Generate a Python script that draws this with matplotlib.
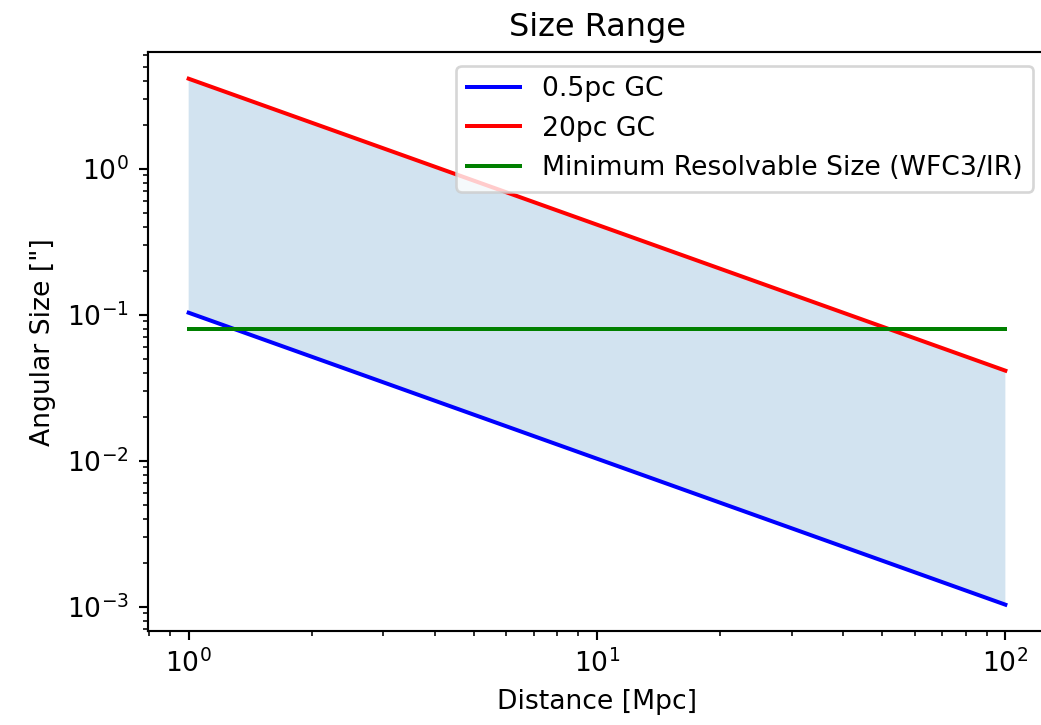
import matplotlib
matplotlib.use("Agg")
import matplotlib.pyplot as plt

# Data
distance_mpc = [1.0, 100.0]
size_small = [0.103, 0.00103]   # 0.5pc GC, arcsec
size_large = [4.13, 0.0413]     # 20pc GC, arcsec
min_resolvable = [0.08, 0.08]   # WFC3/IR

DPI = 192
fig = plt.figure(figsize=(1041 / DPI, 725 / DPI), dpi=DPI)
ax = fig.add_axes([0.142, 0.1297, 0.863, 0.798])

ax.plot(distance_mpc, size_small, color='b', label='0.5pc GC')
ax.plot(distance_mpc, size_large, color='r', label='20pc GC')
ax.plot(distance_mpc, min_resolvable, color='g', label='Minimum Resolvable Size (WFC3/IR)')
ax.fill_between(distance_mpc, size_small, size_large, alpha=0.2)

ax.set_xscale('log')
ax.set_yscale('log')
ax.set_xlabel('Distance [Mpc]')
ax.set_ylabel('Angular Size ["]')
ax.set_title('Size Range')
ax.legend(loc='upper right')

fig.savefig('out.png', dpi=DPI)
